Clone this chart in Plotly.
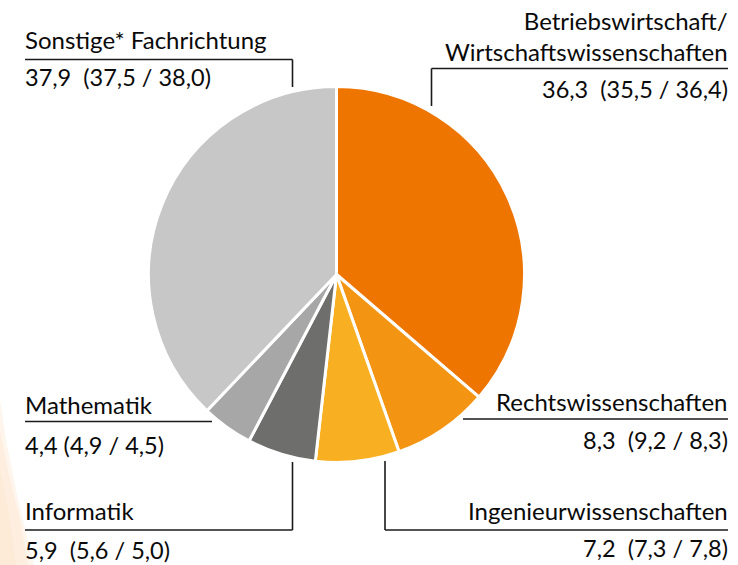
import plotly.graph_objects as go

# ---- data ----
categories = ["Betriebswirtschaft/<br>Wirtschaftswissenschaften", "Rechtswissenschaften",
              "Ingenieurwissenschaften", "Informatik", "Mathematik", "Sonstige* Fachrichtung"]
values = [36.3, 8.3, 7.2, 5.9, 4.4, 37.9]
prev_a = [35.5, 9.2, 7.3, 5.6, 4.9, 37.5]
prev_b = [36.4, 8.3, 7.8, 5.0, 4.5, 38.0]
colors = ["#EE7500", "#F39512", "#F8B022", "#6E6E6C", "#A7A7A7", "#C6C7C6"]

W, H = 738, 565
cx, cy, r = 336.5, 274.5, 188

def de(v):
    return f"{v:.1f}".replace(".", ",")

def val_label(i, gap="\u00a0 "):
    return f"{de(values[i])}{gap}({de(prev_a[i])} / {de(prev_b[i])})"

fig = go.Figure()
fig.add_trace(go.Pie(
    labels=categories, values=values, sort=False, direction="clockwise", rotation=0,
    marker=dict(colors=colors, line=dict(color="white", width=3)),
    textinfo="none", hoverinfo="label+value", showlegend=False,
    domain=dict(x=[(cx - r) / W, (cx + r) / W], y=[1 - (cy + r) / H, 1 - (cy - r) / H]),
))

FONT = "Lato"
ann = []
def add(text, x, y, xanchor, fs=24, align=None):
    ann.append(dict(text=text, x=x, y=y, xref="x", yref="y", xanchor=xanchor, yanchor="middle",
                    align=align or xanchor, showarrow=False,
                    font=dict(family=FONT, size=fs, color="#0a0a0a")))

L, R = 23, 730
NF = 23.5
add(categories[5], L, 39, "left")
add(val_label(5), L, 77, "left", NF)
add(categories[0], R, 36, "right")
add(val_label(0), R, 89, "right", NF)
add(categories[1], R, 401, "right")
add(val_label(1), R, 440, "right", NF)
add(categories[2], R, 510, "right")
add(val_label(2), R, 548, "right", NF)
add(categories[4], L, 404, "left")
add(val_label(4, " "), L, 445, "left", NF)
add(categories[3], L, 510, "left")
add(val_label(3), L, 550, "left", NF)

line = dict(color="#1a1a1a", width=1.6)
shapes = []
def seg(x0, y0, x1, y1):
    shapes.append(dict(type="line", xref="x", yref="y", x0=x0, y0=y0, x1=x1, y1=y1, line=line))

# Sonstige
seg(25, 59.5, 292.5, 59.5); seg(292.5, 59.5, 292.5, 87)
# BWL
seg(431.5, 68.5, 728, 68.5); seg(431.5, 68.5, 431.5, 106)
# Rechts
seg(463, 419, 728, 419)
# Ingenieur
seg(385, 530, 728, 530); seg(385, 530, 385, 461)
# Mathematik
seg(25, 421.5, 212, 421.5)
# Informatik
seg(25, 530, 292.5, 530); seg(292.5, 530, 292.5, 462)

# faint peach glow at lower-left edge
glow = [
    ("M 0 400 L 6 440 L 18 500 L 34 565 L 0 565 Z", 0.35),
    ("M 0 430 L 8 470 L 20 520 L 28 565 L 0 565 Z", 0.35),
    ("M 0 470 L 8 510 L 16 565 L 0 565 Z", 0.35),
]
for p, op in glow:
    shapes.append(dict(type="path", path=p, xref="x", yref="y", fillcolor="#FBE3C8",
                       opacity=op, line=dict(width=0), layer="below"))

fig.update_layout(
    width=W, height=H, margin=dict(l=0, r=0, t=0, b=0),
    paper_bgcolor="white", plot_bgcolor="rgba(0,0,0,0)",
    xaxis=dict(range=[0, W], visible=False, fixedrange=True),
    yaxis=dict(range=[H, 0], visible=False, fixedrange=True),
    annotations=ann, shapes=shapes,
)
fig.write_html("out.html", config={"displayModeBar": False},
               post_script="document.body.style.margin='0';document.body.style.overflow='hidden';")
